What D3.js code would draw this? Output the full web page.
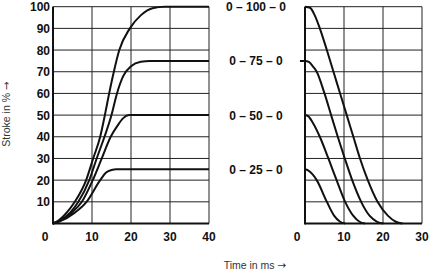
<!DOCTYPE html>
<html>
<head>
<meta charset="utf-8">
<script src="https://cdn.jsdelivr.net/npm/d3@7"></script>
<style>
  body { margin: 0; background: #fff; }
  svg { display: block; font-family: "Liberation Sans", Arial, sans-serif; }
</style>
</head>
<body>
<svg id="chart" width="429" height="272"></svg>
<script>
// stroke levels (%) and their labels
const levels = [100, 75, 50, 25];
const levelLabels = ["0 – 100 – 0", "0 – 75 – 0", "0 – 50 – 0", "0 – 25 – 0"];

// rising part, [time ms, stroke %]
const rise100 = [[0,0],[1.5,1.5],[3.5,5],[5.6,10],[8.5,20],[10.3,30],[12.1,40],[13.3,50],[14.4,60],[15.6,70],[17,80],[19.7,90],[22.5,96],[25.5,99.3],[28.7,100],[40,100]];
const rise75  = [[0,0],[1.5,1.2],[4.4,5],[6.5,10],[9.3,20],[11.2,30],[13.2,40],[15,50],[16.4,60],[18,68],[20,72.5],[22.5,74.6],[24.9,75],[40,75]];
const rise50  = [[0,0],[1.5,1],[4.8,5],[7.4,10],[10.2,20],[12.5,30],[14.8,40],[16.5,45],[18,48.6],[19.5,50],[40,50]];
const rise25  = [[0,0],[1.5,0.8],[5.6,5],[8.6,10],[12.1,20],[13.6,23.5],[15,24.7],[16.3,25],[40,25]];

// falling part, [time ms, stroke %]
const fall100 = [[0,100],[1.3,99.5],[2.5,96],[3.8,90],[5.6,80],[7.3,70],[9,60],[10.7,50],[12.4,40],[14.1,30],[16.1,20],[18.6,10],[21.3,3.5],[23.3,0.8],[25,0]];
const fall75  = [[-1.3,75],[0,75],[1,74.5],[2,72.5],[3,70],[5,60],[6.7,50],[8.4,40],[10.2,30],[12.1,20],[14.4,10],[16.6,3.5],[18.5,0.8],[20.1,0]];
const fall50  = [[0,50],[0.8,49.5],[2,46.5],[3.8,40],[6,30],[8.1,20],[10.3,10],[12.4,3.5],[14,0.8],[15.4,0]];
const fall25  = [[0,25],[0.8,24.5],[2,22.5],[3,20],[5.6,10],[7.5,3.5],[9,0.8],[10.3,0]];

const yTicks = [10, 20, 30, 40, 50, 60, 70, 80, 90, 100];
const yGrid = [0, 10, 20, 30, 40, 50, 60, 70, 80, 90, 100];
const xTicksL = [0, 10, 20, 30, 40];
const xTicksR = [0, 10, 20, 30];

const svg = d3.select("#chart");

const y = d3.scaleLinear().domain([0, 100]).range([223.5, 6.7]);
const xL = d3.scaleLinear().domain([0, 40]).range([53, 209]);
const xR = d3.scaleLinear().domain([0, 30]).range([305, 422]);

function panel(x, ticks, curves) {
    const g = svg.append("g");
    // grid
    g.selectAll(".hg").data(yGrid).enter().append("line")
        .attr("x1", x.range()[0]).attr("x2", x.range()[1])
        .attr("y1", d => y(d)).attr("y2", d => y(d))
        .attr("stroke", "#222").attr("stroke-width", 1);
    g.selectAll(".vg").data(ticks).enter().append("line")
        .attr("x1", d => x(d)).attr("x2", d => x(d))
        .attr("y1", y(0)).attr("y2", y(100))
        .attr("stroke", "#222").attr("stroke-width", 1);
    // axes (heavier)
    g.append("line").attr("x1", x.range()[0]).attr("x2", x.range()[1])
        .attr("y1", y(0)).attr("y2", y(0)).attr("stroke", "#111").attr("stroke-width", 2);
    g.append("line").attr("x1", x.range()[0]).attr("x2", x.range()[0])
        .attr("y1", y(0) + 1).attr("y2", y(100)).attr("stroke", "#111").attr("stroke-width", 2);
    // tick labels
    g.selectAll(".xl").data(ticks).enter().append("text")
        .attr("x", d => d === 0 ? x(d) - 8 : x(d))
        .attr("y", 241)
        .attr("text-anchor", "middle")
        .attr("font-size", 12).attr("font-weight", "bold").attr("fill", "#111")
        .text(d => d);

    const line = d3.line().x(d => x(d[0])).y(d => y(d[1])).curve(d3.curveMonotoneX);
    g.selectAll(".c").data(curves).enter().append("path")
        .attr("d", line)
        .attr("fill", "none").attr("stroke", "#111").attr("stroke-width", 2);
}

panel(xL, xTicksL, [rise100, rise75, rise50, rise25]);
panel(xR, xTicksR, [fall100, fall75, fall50, fall25]);

// y tick labels
svg.selectAll(".yl").data(yTicks).enter().append("text")
    .attr("x", 50).attr("y", d => y(d) + 4.5)
    .attr("text-anchor", "end")
    .attr("font-size", 12).attr("font-weight", "bold").attr("fill", "#111")
    .text(d => d);

// level labels between the panels
svg.selectAll(".lv").data(levels).enter().append("text")
    .attr("x", 256).attr("y", d => y(d) + 4.5)
    .attr("text-anchor", "middle")
    .attr("font-size", 12).attr("font-weight", "bold").attr("fill", "#111")
    .text((d, i) => levelLabels[i]);

// axis titles (arrow from DejaVu, which has a proper long glyph)
const yTitle = svg.append("text")
    .attr("transform", "translate(10,114) rotate(-90)")
    .attr("text-anchor", "middle")
    .attr("font-size", 10.5).attr("fill", "#333");
yTitle.append("tspan").text("Stroke in % ");
yTitle.append("tspan").attr("font-family", "DejaVu Sans").text("→");

const xTitle = svg.append("text")
    .attr("x", 255).attr("y", 269)
    .attr("text-anchor", "middle")
    .attr("font-size", 10.5).attr("fill", "#333");
xTitle.append("tspan").text("Time in ms ");
xTitle.append("tspan").attr("font-family", "DejaVu Sans").text("→");
</script>
</body>
</html>
